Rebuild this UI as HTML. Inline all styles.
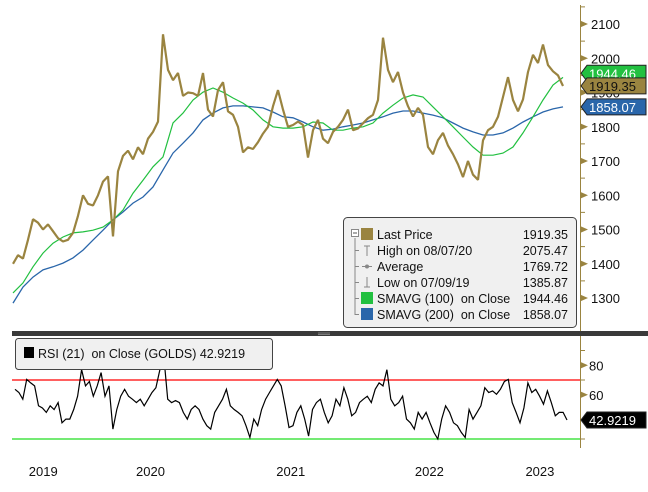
<!DOCTYPE html>
<html><head><meta charset="utf-8"><style>
html,body{margin:0;padding:0;background:#fff;}
svg{display:block;font-family:"Liberation Sans",sans-serif;}
text{white-space:pre;}
</style></head><body>
<svg id="chart" width="648" height="492" viewBox="0 0 648 492">
<g id="grid"></g>
<g id="price-pane"></g>
<g id="rsi-pane"></g>
<rect x="12" y="331" width="636" height="5" fill="#3a3a3a"/>
<line x1="318" y1="333" x2="330" y2="333" stroke="#999" stroke-width="0.7"/>
<line x1="318" y1="334.6" x2="330" y2="334.6" stroke="#999" stroke-width="0.7"/>
<g id="axes"></g>
<g>
<rect x="343.5" y="217.5" width="233" height="110" rx="4" fill="#f0f0f0" stroke="#444"/>
<path d="M355 238 V315 M355 250.5h4 M355 266.5h4 M355 282.5h4 M355 298.5h4 M355 314.5h4" stroke="#888" fill="none"/>
<rect x="351.5" y="229.5" width="7" height="7" fill="#fff" stroke="#888"/>
<line x1="353" y1="233" x2="357" y2="233" stroke="#555"/>
<rect x="361" y="228" width="12" height="12" fill="#9a8440"/>
<path d="M364 246h6 M367 246v10" stroke="#888" fill="none"/>
<path d="M362 266.5h10" stroke="#888"/><circle cx="367" cy="266.5" r="2" fill="#888"/>
<path d="M364 287h6 M367 287v-10" stroke="#888" fill="none"/>
<rect x="361" y="292" width="12" height="12" fill="#22c040"/>
<rect x="361" y="308" width="12" height="12" fill="#2a66aa"/>
<g font-size="12.5" fill="#111">
<text x="377" y="239">Last Price</text>
<text x="377" y="255">High on 08/07/20</text>
<text x="377" y="271">Average</text>
<text x="377" y="287">Low on 07/09/19</text>
<text x="377" y="303">SMAVG (100)  on Close</text>
<text x="377" y="319">SMAVG (200)  on Close</text>
<g text-anchor="end">
<text x="568" y="239">1919.35</text><text x="568" y="255">2075.47</text>
<text x="568" y="271">1769.72</text><text x="568" y="287">1385.87</text>
<text x="568" y="303">1944.46</text><text x="568" y="319">1858.07</text>
</g></g></g>
<g>
<rect x="15.5" y="338.5" width="257" height="31" rx="3" fill="#f0f0f0" stroke="#444"/>
<rect x="24" y="347" width="10" height="11" fill="#000"/>
<text x="38" y="358" font-size="12.5" fill="#111">RSI (21)  on Close (GOLDS) 42.9219</text>
</g>
</svg>
<script>
const priceValues=[1400,1425,1415,1470,1530,1520,1500,1515,1495,1475,1465,1470,1490,1540,1600,1575,1570,1600,1640,1655,1480,1670,1715,1730,1705,1740,1720,1765,1785,1815,2070,1966,1936,1957,1890,1900,1898,1890,1957,1850,1830,1907,1930,1845,1835,1800,1725,1740,1735,1755,1780,1800,1860,1907,1850,1800,1805,1815,1805,1710,1790,1820,1765,1752,1785,1800,1820,1850,1790,1795,1810,1825,1835,1878,2060,1966,1930,1960,1900,1860,1830,1855,1835,1741,1720,1761,1782,1745,1720,1690,1653,1700,1660,1645,1760,1790,1800,1829,1887,1945,1878,1845,1880,1960,2010,1986,2040,1980,1962,1950,1919];
const sma100Values=[1315,1344,1391,1431,1460,1478,1490,1493,1498,1507,1528,1557,1606,1644,1683,1712,1811,1840,1878,1901,1913,1901,1884,1869,1849,1820,1800,1796,1796,1800,1814,1811,1790,1790,1796,1800,1811,1840,1863,1884,1893,1887,1858,1829,1800,1770,1741,1717,1717,1723,1741,1782,1829,1878,1922,1944];
const sma200Values=[1285,1332,1361,1382,1391,1402,1417,1440,1469,1498,1528,1551,1577,1595,1624,1674,1723,1752,1782,1820,1840,1855,1861,1861,1858,1855,1843,1829,1826,1814,1800,1790,1793,1800,1805,1811,1820,1829,1840,1846,1846,1840,1834,1826,1811,1796,1785,1776,1776,1782,1796,1814,1829,1843,1852,1858];
const rsiValues=[63.7,61.5,57,70.4,68,66,52.5,51,48,52.5,50,54.7,41,43.5,43.5,50,59,77,66,69,59,66,75,59,66,36.7,50,59,63.7,59,57,54.7,57,52.5,57,61.5,64.8,77,86,57,54.7,56,54.7,48,43.5,50,52.5,50,43.5,39,36.7,48,52.5,57,63.7,52.5,50,48,45.7,39,31,43.5,39,50,57,61.5,66,70.4,66,52.5,37.8,39,48,52.5,43.5,32,50,54.7,57,48,41,45.7,57,52.5,64.8,57,45.7,48,54.7,57,59,54.7,63.7,68,66,77,57,52.5,54.7,59,43.5,41,36.7,48,43.5,48,41,34.5,30,43.5,52.5,48,41,39,34.5,31,50,43.5,48,52.5,64.8,61.5,62.6,60.3,63.7,69,70.4,54.7,48,41,51,68,61.5,63.7,59,53.6,62.6,54.7,45.7,48,48,42.9];
const priceTicks=[2100,2000,1900,1800,1700,1600,1500,1400,1300];
const rsiTicks=[80,60];
const yearLabels=["2019","2020","2021","2022","2023"];
const yearPos=[0.055,0.25,0.505,0.757,0.958];

const NS="http://www.w3.org/2000/svg";
const X0=13,X1=563;
const py=v=>24+(2100-v)*0.3425;
const ry=v=>380-(v-70)*1.475;
const xi=(i,n)=>X0+(X1-X0)*i/(n-1);
function mk(tag,attrs,parent){const e=document.createElementNS(NS,tag);for(const k in attrs)e.setAttribute(k,attrs[k]);parent.appendChild(e);return e;}
function pathOf(arr,yf){return arr.map((v,i)=>(i?'L':'M')+xi(i,arr.length).toFixed(1)+' '+yf(v).toFixed(1)).join(' ');}
const pp=document.getElementById('price-pane');
const rp=document.getElementById('rsi-pane');
const ax=document.getElementById('axes');

let e=mk('path',{d:pathOf(sma200Values,py),fill:'none',stroke:'#2a66aa','stroke-width':1.3},pp);


e=mk('path',{d:pathOf(sma100Values,py),fill:'none',stroke:'#22c040','stroke-width':1.2},pp);


e=mk('path',{d:pathOf(priceValues,py),fill:'none',stroke:'#9a8440','stroke-width':2.2,'stroke-linejoin':'bevel'},pp);



e=mk('line',{x1:12,x2:580,y1:ry(70),y2:ry(70),stroke:'#ff0000','stroke-width':1.2},rp);


e=mk('line',{x1:12,x2:580,y1:ry(30),y2:ry(30),stroke:'#22dd22','stroke-width':1.2},rp);


const RX0=15,RX1=567;
e=mk('path',{d:rsiValues.map((v,i)=>(i?'L':'M')+(RX0+(RX1-RX0)*i/(rsiValues.length-1)).toFixed(1)+' '+ry(v).toFixed(1)).join(' '),fill:'none',stroke:'#000','stroke-width':1.2},rp);



const AC='#9a8440';
mk('line',{x1:580.5,x2:580.5,y1:5,y2:331,stroke:AC},ax);
mk('line',{x1:580.5,x2:580.5,y1:336,y2:448,stroke:AC},ax);
priceTicks.forEach(v=>{
  const y=py(v);
  mk('path',{d:`M580 ${y-3.5} L588 ${y} L580 ${y+3.5}Z`,fill:AC},ax);
  mk('line',{x1:580,x2:585,y1:py(v+50),y2:py(v+50),stroke:AC},ax);
  const t=mk('text',{x:591,y:y+5,'font-size':13,fill:'#111'},ax);t.textContent=v;
  
  
});
rsiTicks.forEach(v=>{
  const y=ry(v);
  mk('path',{d:`M580 ${y-3.5} L588 ${y} L580 ${y+3.5}Z`,fill:AC},ax);
  mk('line',{x1:580,x2:585,y1:ry(v+10),y2:ry(v+10),stroke:AC},ax);
  const t=mk('text',{x:589,y:y+5,'font-size':13,fill:'#111'},ax);t.textContent=v;
  
  
});
mk('line',{x1:580,x2:585,y1:ry(30),y2:ry(30),stroke:AC},ax);
function tag(y,txt,bg,fg,name){
  const g=mk('g',{},ax);
  
  
  mk('path',{d:`M581 ${y} L587 ${y-8} H646 V${y+8} H587Z`,fill:bg,stroke:'#222','stroke-width':1},g);
  const t=mk('text',{x:589,y:y+5,'font-size':13,fill:fg},g);t.textContent=txt;
}
tag(py(1944.46)-4,'1944.46','#22c040','#fff','sma100-value-tag');
tag(py(1919.35),'1919.35','#9a8440','#111','last-price-tag');
tag(py(1858.07),'1858.07','#2a66aa','#fff','sma200-value-tag');
tag(ry(42.92),'42.9219','#000','#fff','rsi-value-tag');
yearLabels.forEach((l,i)=>{
  const t=mk('text',{x:X0+(X1-X0)*yearPos[i],y:476,'font-size':13,fill:'#111','text-anchor':'middle'},ax);
  t.textContent=l;
  
  
});
</script>
</body></html>
